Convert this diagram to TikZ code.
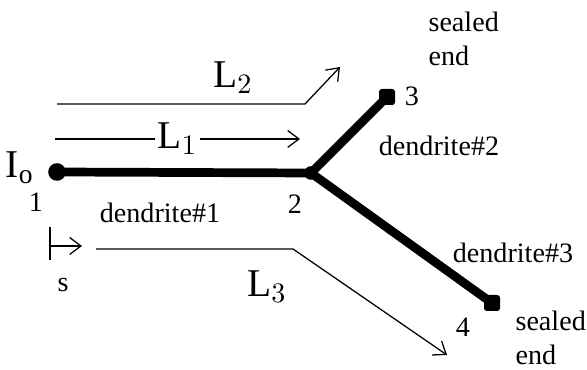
\documentclass[tikz,border=0pt]{standalone}
\usepackage{fontspec}
\setmainfont{Liberation Serif}
\usetikzlibrary{arrows.meta}
\begin{document}
\begin{tikzpicture}[font=\normalsize,>={Straight Barb[length=4pt,width=6pt]},x=1cm,y=1cm]
    \tikzset{
        soma/.style={circle,fill=black,inner sep=0pt,minimum size=0.22cm},
        dendrite/.style={line width=3.1pt},
        span/.style={->,line width=0.45pt},
        big/.style={font=\fontsize{14}{16}\selectfont}
    }
    \useasboundingbox (0,0) rectangle (7.3375,4.625);

    \node[soma] (n1) at (0.7125,2.475) {};
    \node[soma,minimum size=0.17cm] (n2) at (3.8875,2.4625) {};
    \node[soma,rectangle,minimum size=0.2cm,rounded corners=1pt] (n3) at (4.8375,3.4125) {};
    \node[soma,rectangle,minimum size=0.2cm,rounded corners=1pt] (n4) at (6.15,0.8375) {};

    \draw[dendrite] (n1.center) -- (n2.center);
    \draw[dendrite] (n2.center) -- (n3.center);
    \draw[dendrite] (n2.center) -- (n4.center);

    \coordinate (l1a) at (0.6875,2.8875);
    \coordinate (l1b) at (3.75,2.8875);
    \coordinate (l2a) at (0.7125,3.325);
    \coordinate (l2k) at (3.8125,3.325);
    \coordinate (l2b) at (4.25,3.7875);
    \coordinate (l3a) at (1.2,1.5125);
    \coordinate (l3k) at (3.6625,1.5125);
    \coordinate (l3b) at (5.5875,0.1875);
    \coordinate (sa) at (0.625,1.55);
    \coordinate (sb) at (1.025,1.55);

    \draw[span] (l1a) -- node[fill=white,inner sep=1pt,big] (L1) {L$_1$} (l1b);
    \draw[span] (l2a) -- (l2k) -- (l2b);
    \draw[span] (l3a) -- (l3k) -- (l3b);
    \draw[span] (sa) -- (sb);
    \draw[line width=0.45pt] (0.625,1.7875) -- (0.625,1.375);

    \node[big] (L2) at (2.9125,3.65) {L$_2$};
    \node[big] (L3) at (3.3375,1.0375) {L$_3$};
    \node[big] (Io) at (0.25,2.525) {I$_{\mathrm{o}}$};
    \node (s) at (0.7875,1.0625) {s};

    \node (t1) at (0.45,2.1) {1};
    \node (t2) at (3.6875,2.075) {2};
    \node (t3) at (5.15,3.425) {3};
    \node (t4) at (5.7875,0.5375) {4};

    \node (d1) at (2.0,1.9625) {dendrite\#1};
    \node (d2) at (5.4875,2.8) {dendrite\#2};
    \node (d3) at (6.4125,1.4625) {dendrite\#3};

    \node[align=left,anchor=west,inner sep=0pt] (se3) at (5.35,4.14) {sealed\\end};
    \node[align=left,anchor=west,inner sep=0pt] (se4) at (6.4375,0.4) {sealed\\end};
\end{tikzpicture}
\end{document}
